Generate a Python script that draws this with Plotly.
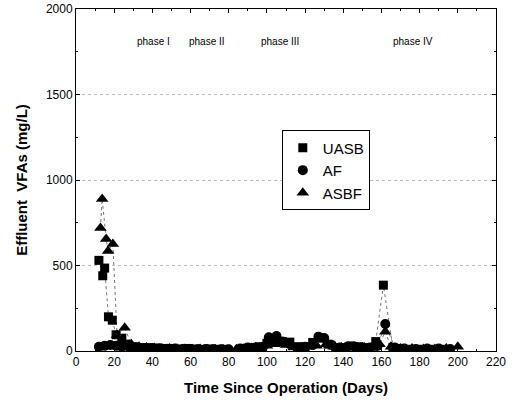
import plotly.graph_objects as go

# ---- data ----
uasb_days = [12, 14, 15, 17, 19, 21, 24, 27, 30, 34, 38, 42, 46, 50, 54, 58, 62, 66, 70, 74, 78,
             88, 92, 96, 100, 104, 108, 112, 116, 120, 124, 128, 132, 136, 140, 144, 148, 152,
             157, 161, 166, 170, 175, 180, 186, 192]
uasb_vals = [530, 440, 485, 200, 180, 95, 75, 40, 25, 20, 20, 18, 15, 15, 12, 15, 12, 10, 12, 10, 10,
             15, 20, 25, 45, 50, 55, 52, 25, 25, 50, 75, 40, 20, 20, 30, 25, 20,
             55, 385, 20, 15, 10, 10, 10, 10]

af_days = [12, 15, 18, 21, 24, 28, 32, 36, 40, 44, 48, 52, 56, 60, 64, 68, 72, 76, 80,
           86, 90, 94, 98, 101, 105, 108, 112, 116, 120, 124, 127, 130, 134, 138, 142, 146, 150, 154,
           158, 162, 167, 172, 178, 184, 190, 196]
af_vals = [25, 30, 35, 30, 25, 20, 20, 18, 15, 15, 12, 15, 12, 12, 10, 12, 10, 10, 10,
           15, 20, 20, 25, 80, 88, 55, 40, 20, 25, 35, 84, 76, 35, 20, 25, 25, 20, 20,
           30, 158, 20, 15, 12, 15, 15, 12]

asbf_days = [12.8, 13.7, 15.8, 16.8, 19.3, 21.5, 25.5, 29, 33, 37, 41, 45, 49, 53, 57, 61, 65, 69, 73, 77,
             84, 88, 92, 96, 100, 104, 110, 114, 118, 122, 126, 131, 135, 139, 143, 147, 151, 155,
             159, 162, 165, 170, 176, 182, 188, 194, 200]
asbf_vals = [719, 889, 655, 585, 626, 94, 136, 40, 25, 20, 18, 15, 15, 12, 12, 10, 12, 10, 10, 10,
             10, 15, 18, 20, 30, 40, 35, 20, 20, 25, 30, 40, 25, 20, 25, 20, 20, 18,
             40, 113, 25, 15, 15, 12, 12, 15, 25]

phase_labels = ["phase I", "phase II", "phase III", "phase IV"]
phase_x = [40.5, 68.8, 107, 176.6]
phase_y = [1810, 1810, 1810, 1810]

series = [
    ("UASB", uasb_days, uasb_vals, "square", 9),
    ("AF", af_days, af_vals, "circle", 10),
    ("ASBF", asbf_days, asbf_vals, "triangle-up", 11),
]

FONT = "Liberation Sans, Arial"

fig = go.Figure()
# dotted connecting lines (not in legend)
for name, xs, ys, sym, sz in series:
    fig.add_trace(go.Scatter(
        x=xs, y=ys, mode="lines", showlegend=False, hoverinfo="skip",
        line=dict(color="#777777", width=1, dash="dot"),
    ))
# markers (legend entries)
for name, xs, ys, sym, sz in series:
    fig.add_trace(go.Scatter(
        x=xs, y=ys, name=name, mode="markers",
        marker=dict(symbol=sym, size=sz, color="black"),
    ))

for lab, px, py in zip(phase_labels, phase_x, phase_y):
    fig.add_annotation(x=px, y=py, text=lab, showarrow=False,
                       font=dict(family=FONT, size=10, color="black"))

axis_common = dict(
    showline=True, linecolor="black", linewidth=1, mirror="ticks",
    ticks="inside", ticklen=4, tickcolor="black", zeroline=False,
    tickfont=dict(family=FONT, size=12, color="black"),
)

fig.update_xaxes(range=[0, 220], tick0=0, dtick=20, showgrid=False,
                 minor=dict(ticks="inside", ticklen=2, dtick=10, tickcolor="black"),
                 title=dict(text="<b>Time Since Operation (Days)</b>",
                            font=dict(family=FONT, size=15, color="black"),
                            standoff=14),
                 **axis_common)
fig.update_yaxes(range=[0, 2000], tick0=0, dtick=500, showgrid=True,
                 gridcolor="#bbbbbb", griddash="dot", gridwidth=1,
                 minor=dict(ticks="inside", ticklen=2, dtick=250, tickcolor="black"),
                 title=dict(text="<b>Effluent  VFAs (mg/L)</b>",
                            font=dict(family=FONT, size=15, color="black"),
                            standoff=14),
                 **axis_common)

fig.update_layout(
    width=515, height=405,
    margin=dict(l=76, r=19, t=9, b=54, autoexpand=False),
    paper_bgcolor="white", plot_bgcolor="white",
    showlegend=True,
    legend=dict(x=0.49, y=0.645, xanchor="left", yanchor="top",
                bordercolor="black", borderwidth=1, bgcolor="white",
                font=dict(family=FONT, size=15, color="black"),
                itemwidth=30, tracegroupgap=0),
)

fig.write_html("out.html", config={"displayModeBar": False},
               post_script="document.body.style.margin='0';")
